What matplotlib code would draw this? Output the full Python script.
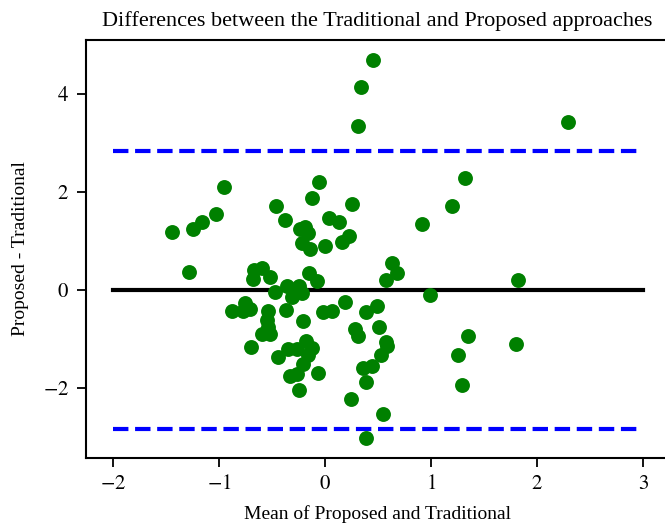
import matplotlib
matplotlib.use("Agg")
import matplotlib.pyplot as plt
from matplotlib.ticker import FuncFormatter

# Bland-Altman: mean of the two methods vs. their difference
mean_vals = [0.450, 0.337, 0.308, 2.290, 1.321, 1.201, 0.915, -0.950, -0.465, -0.380,
             -1.443, -1.245, -1.163, -1.028, -1.283, -0.670, -0.597, -0.519, -0.679, -0.472,
             -0.358, -0.245, -0.314, -0.220, -0.148, -0.073, -0.054, -0.120, 0.252, 0.041,
             0.135, -0.236, -0.189, -0.157, -0.220, -0.142, 0.000, 0.229, 0.163, 0.629,
             0.676, 0.573, 0.991, 1.821, 1.802, 1.349, 1.257, 1.289, -0.880, -0.755,
             -0.708, -0.770, -0.535, -0.550, -0.535, -0.597, -0.519, -0.368, -0.205, -0.698,
             -0.439, -0.347, -0.267, -0.179, -0.125, -0.157, -0.205, -0.330, -0.269, -0.242,
             -0.063, -0.016, 0.066, 0.192, 0.283, 0.314, 0.387, 0.486, 0.509, 0.575,
             0.585, 0.526, 0.361, 0.440, 0.382, 0.245, 0.550, 0.382]
diff_vals = [4.69, 4.14, 3.34, 3.43, 2.29, 1.71, 1.34, 2.10, 1.72, 1.43,
             1.18, 1.24, 1.39, 1.54, 0.36, 0.40, 0.45, 0.27, 0.22, -0.04,
             0.08, 0.08, -0.14, -0.07, 0.35, 0.18, 2.21, 1.88, 1.75, 1.46,
             1.38, 1.24, 1.28, 1.16, 0.96, 0.83, 0.90, 1.11, 0.97, 0.54,
             0.34, 0.20, -0.10, 0.20, -1.11, -0.94, -1.33, -1.94, -0.44, -0.27,
             -0.39, -0.44, -0.44, -0.61, -0.76, -0.90, -0.90, -0.42, -0.64, -1.16,
             -1.37, -1.20, -1.20, -1.05, -1.18, -1.33, -1.52, -1.76, -1.72, -2.05,
             -1.69, -0.45, -0.44, -0.25, -0.80, -0.95, -0.46, -0.33, -0.75, -1.06,
             -1.15, -1.33, -1.60, -1.56, -1.87, -2.22, -2.54, -3.03]

bias = 0.0
loa = 2.83
line_x = [-2, 3]
x_ticks = [-2, -1, 0, 1, 2, 3]
y_ticks = [-2, 0, 2, 4]

plt.rcParams['font.family'] = ['Liberation Serif', 'DejaVu Serif']
plt.rcParams['mathtext.fontset'] = 'stix'

fig = plt.figure(figsize=(6.65, 5.26), dpi=100)
ax = fig.add_axes([86 / 665, 68 / 526, 583 / 665, 418 / 526])

ax.scatter(mean_vals, diff_vals, s=115, color='green', zorder=3, linewidths=0)
ax.plot(line_x, [bias, bias], color='black', lw=3)
ax.plot(line_x, [bias + loa, bias + loa], color='blue', lw=3, ls='--')
ax.plot(line_x, [bias - loa, bias - loa], color='blue', lw=3, ls='--')

ax.set_xlim(-2.255, 3.245)
ax.set_ylim(-3.43, 5.10)
ax.set_xticks(x_ticks)
ax.set_yticks(y_ticks)
tick_fmt = FuncFormatter(lambda v, p: r'$%g$' % v)
ax.xaxis.set_major_formatter(tick_fmt)
ax.yaxis.set_major_formatter(tick_fmt)

for sp in ax.spines.values():
    sp.set_linewidth(1.5)
ax.tick_params(labelsize=15, length=6.5, width=1.3, pad=6)

ax.set_title("Differences between the Traditional and Proposed approaches", fontsize=16, pad=10)
ax.set_xlabel("Mean of Proposed and Traditional", fontsize=14, labelpad=8)
ax.set_ylabel("Proposed - Traditional", fontsize=14, labelpad=10)

fig.savefig("out.png", dpi=100)
